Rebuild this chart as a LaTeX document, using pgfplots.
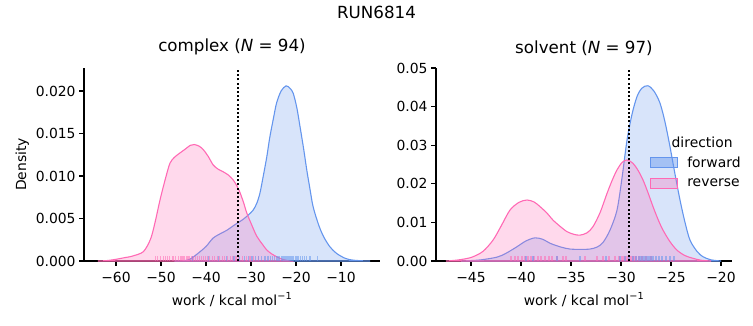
\documentclass[border=0pt]{standalone}
\usepackage{pgfplots}
\pgfplotsset{compat=1.18}
\usepackage{fontspec}
\setmainfont{DejaVu Sans}
\definecolor{cblue}{RGB}{100,149,237}
\definecolor{hpink}{RGB}{255,105,180}
\pgfplotsset{
  myaxis/.style={
    scale only axis, width=296pt, height=193pt,
    axis lines=left, axis line style={-, line width=1.1pt, black},
    tick align=outside, major tick length=4.9pt,
    tick style={line width=1.1pt, black},
    scaled y ticks=false, scaled x ticks=false,
    font=\fontsize{13.9}{16.7}\selectfont,
    tick label style={font=\fontsize{13.9}{16.7}\selectfont},
    xticklabel style={yshift=-3pt},
    label style={font=\fontsize{13.9}{16.7}\selectfont},
    xlabel style={yshift=-3pt},
    title style={font=\fontsize{16.7}{20}\selectfont, at={(0.5,1)}, anchor=south, yshift=3pt},
    /pgf/number format/assume math mode=true,
    ymin=0,
    xlabel={work / kcal mol\textsuperscript{−1}},
    every axis plot/.append style={line width=1.1pt},
  },
  fwd/.style={cblue, fill=cblue, fill opacity=0.25, draw opacity=1, smooth, tension=0.5},
  rev/.style={hpink, fill=hpink, fill opacity=0.25, draw opacity=1, smooth, tension=0.5},
  rug/.style={ycomb, no marks, opacity=0.55, line width=1.3pt},
}
\begin{document}
\begin{tikzpicture}
\path[use as bounding box] (0,0) rectangle (753pt,325pt);
\node[font=\fontsize{16.7}{20}\selectfont] at (376.5pt,313pt) {RUN6814};
% ---------------- complex
\begin{axis}[myaxis, at={(84pt,64pt)}, anchor=south west,
  xmin=-67.1, xmax=-1.33, ymax=0.0227,
  xtick={-60,-50,-40,-30,-20,-10},
  xticklabels={−60,−50,−40,−30,−20,−10},
  ytick={0,0.005,0.01,0.015,0.02},
  yticklabels={0.000,0.005,0.010,0.015,0.020},
  ylabel={Density},
  title={complex (\textit{N} = 94)}]
\addplot[fwd] coordinates {
(-47,0) (-45,0.00003) (-43.6,0.0002) (-42,0.0008) (-40,0.0017) (-38.4,0.0027)
(-36.5,0.0033) (-35.4,0.0036) (-33.5,0.0043) (-32,0.0048) (-30.6,0.0054)
(-29.5,0.0060) (-28.7,0.0068) (-28,0.0080) (-27.3,0.0099) (-26.5,0.0122)
(-25.8,0.0146) (-25,0.0168) (-24.3,0.0186) (-23.3,0.0200) (-22.2,0.0206)
(-21.3,0.0203) (-20.6,0.0197) (-19.8,0.0180) (-19.1,0.0158) (-18.3,0.0132)
(-17.6,0.0107) (-16.9,0.0085) (-16.2,0.0064) (-15,0.0043) (-13.9,0.0029)
(-12.5,0.0017) (-11,0.0009) (-9,0.0003) (-7.3,0.0001) (-5,0.00002) (-3.5,0)
} \closedcycle;
\addplot[rev] coordinates {
(-64,0) (-62,0.00005) (-60,0.0002) (-58,0.0004) (-56.9,0.0005) (-55,0.0008)
(-53.9,0.0011) (-53,0.0018) (-52.1,0.0029) (-51.2,0.0048) (-50.2,0.0072)
(-49,0.0097) (-48,0.0115) (-47,0.0122) (-45.8,0.0127) (-44.5,0.0132)
(-43.5,0.0136) (-42.6,0.0137) (-41.5,0.0135) (-40.6,0.0131) (-39.5,0.0123)
(-38.4,0.0113) (-37.3,0.0108) (-36.2,0.0105) (-35,0.0101) (-33.9,0.0095)
(-33,0.0087) (-32.4,0.0080) (-31.6,0.0068) (-30.9,0.0056) (-29.8,0.0042)
(-28.7,0.0029) (-27.5,0.0020) (-26.5,0.0013) (-25.3,0.0008) (-24.3,0.0005)
(-23,0.0002) (-21.5,0)
} \closedcycle;
\addplot[rug, hpink] table[y expr=0.0006] {
x
-51.2
-50.8
-50.1
-49.5
-49.0
-48.6
-48.1
-47.5
-47.2
-46.8
-46.1
-45.7
-45.3
-44.9
-44.4
-44.0
-43.6
-43.1
-42.8
-42.3
-41.9
-41.5
-41.0
-40.6
-40.1
-39.7
-39.2
-38.6
-38.1
-37.5
-37.0
-36.4
-35.9
-35.2
-34.6
-34.0
-33.3
-32.7
-31.9
-31.0
-30.2
-29.5
-28.4
};
\addplot[rug, cblue] table[y expr=0.0006] {
x
-43.0
-39.5
-37.2
-35.5
-33.8
-32.5
-31.4
-30.6
-29.8
-29.0
-28.3
-27.6
-26.9
-26.2
-25.7
-25.2
-24.8
-24.4
-24.0
-23.6
-23.2
-22.9
-22.6
-22.3
-22.0
-21.7
-21.4
-21.1
-20.8
-20.5
-20.1
-19.8
-19.4
-19.0
-18.6
-18.1
-17.6
-16.9
-15.2
};
\addplot[black, line width=2pt, dash pattern=on 2pt off 2.2pt] coordinates {(-32.9,0) (-32.9,0.0227)};
\end{axis}
% ---------------- solvent
\begin{axis}[myaxis, at={(436pt,64pt)}, anchor=south west,
  xmin=-48.5, xmax=-18.9, ymax=0.05,
  xtick={-45,-40,-35,-30,-25,-20},
  xticklabels={−45,−40,−35,−30,−25,−20},
  ytick={0,0.01,0.02,0.03,0.04,0.05},
  yticklabels={0.00,0.01,0.02,0.03,0.04,0.05},
  title={solvent (\textit{N} = 97)},
  legend style={at={(0.723,0.553)}, anchor=north west, draw=none, fill=none,
    inner sep=0pt, row sep=6pt, font=\fontsize{13.9}{16.7}\selectfont,
    nodes={inner sep=2pt}},
  legend cell align=left,
  legend image code/.code={\draw[#1] (0pt,-5pt) rectangle (27pt,5pt);}]
\addlegendimage{draw=cblue, fill=cblue, fill opacity=0.45, line width=1.1pt}
\addlegendentry{\hspace{7pt}forward}
\addlegendimage{draw=hpink, fill=hpink, fill opacity=0.3, line width=1.1pt}
\addlegendentry{\hspace{7pt}reverse}
\addplot[fwd, forget plot] coordinates {
(-46,0) (-45.1,0.0001) (-44,0.0003) (-42.4,0.0010) (-41.5,0.0020) (-40.4,0.0037)
(-39.5,0.0052) (-38.6,0.0060) (-37.8,0.0056) (-37.1,0.0046) (-36,0.0036)
(-35.1,0.0031) (-34,0.0030) (-33.1,0.0031) (-32.4,0.0036) (-31.8,0.0048)
(-31.1,0.0080) (-30.4,0.0132) (-29.9,0.0215) (-29.4,0.0313) (-28.9,0.0380)
(-28.4,0.0426) (-27.9,0.0448) (-27.3,0.0454) (-26.7,0.0440) (-26.1,0.0409)
(-25.6,0.0360) (-25.1,0.0296) (-24.6,0.0225) (-24.1,0.0158) (-23.6,0.0100)
(-23.1,0.0054) (-22.4,0.0025) (-21.8,0.0011) (-21,0.0003) (-20,0)
} \closedcycle;
\addplot[rev, forget plot] coordinates {
(-47.5,0) (-46.5,0.0002) (-45.5,0.0006) (-44.8,0.0011) (-43.8,0.0025)
(-42.8,0.0054) (-42,0.0090) (-41.1,0.0132) (-40.2,0.0152) (-39.4,0.0158)
(-38.7,0.0153) (-38.1,0.0141) (-37.4,0.0124) (-36.8,0.0106) (-36.1,0.0090)
(-35.4,0.0076) (-34.7,0.0069) (-34.1,0.0067) (-33.4,0.0073) (-32.8,0.0089)
(-32.1,0.0125) (-31.4,0.0175) (-30.9,0.0208) (-30.4,0.0236) (-29.9,0.0255)
(-29.4,0.0262) (-28.8,0.0253) (-28.3,0.0235) (-27.8,0.0210) (-27.3,0.0177)
(-26.8,0.0141) (-26.3,0.0108) (-25.8,0.0080) (-25.1,0.0050) (-24.4,0.0028)
(-23.6,0.0014) (-22.8,0.0007) (-22,0.0002) (-21,0)
} \closedcycle;
\addplot[rug, hpink, forget plot] table[y expr=0.0013] {
x
-41.0
-40.6
-40.3
-39.9
-39.6
-39.3
-39.0
-38.7
-38.3
-38.0
-37.6
-37.2
-36.9
-36.4
-35.8
-35.5
-33.6
-32.4
-31.8
-31.2
-30.6
-30.2
-29.9
-29.7
-29.5
-29.3
-29.1
-28.9
-28.7
-28.5
-28.2
-27.9
-27.5
-27.0
};
\addplot[rug, cblue, forget plot] table[y expr=0.0013] {
x
-39.5
-38.8
-36.4
-34.1
-31.5
-30.1
-29.6
-29.2
-28.8
-28.5
-28.2
-28.0
-27.8
-27.6
-27.4
-27.2
-27.0
-26.8
-26.5
-26.2
-25.9
-25.5
-25.1
-24.7
};
\addplot[black, line width=2pt, dash pattern=on 2pt off 2.2pt, forget plot] coordinates {(-29.2,0) (-29.2,0.05)};
\node[font=\fontsize{13.9}{16.7}\selectfont] at (rel axis cs:0.899,0.617) {direction};
\end{axis}
\end{tikzpicture}
\end{document}
